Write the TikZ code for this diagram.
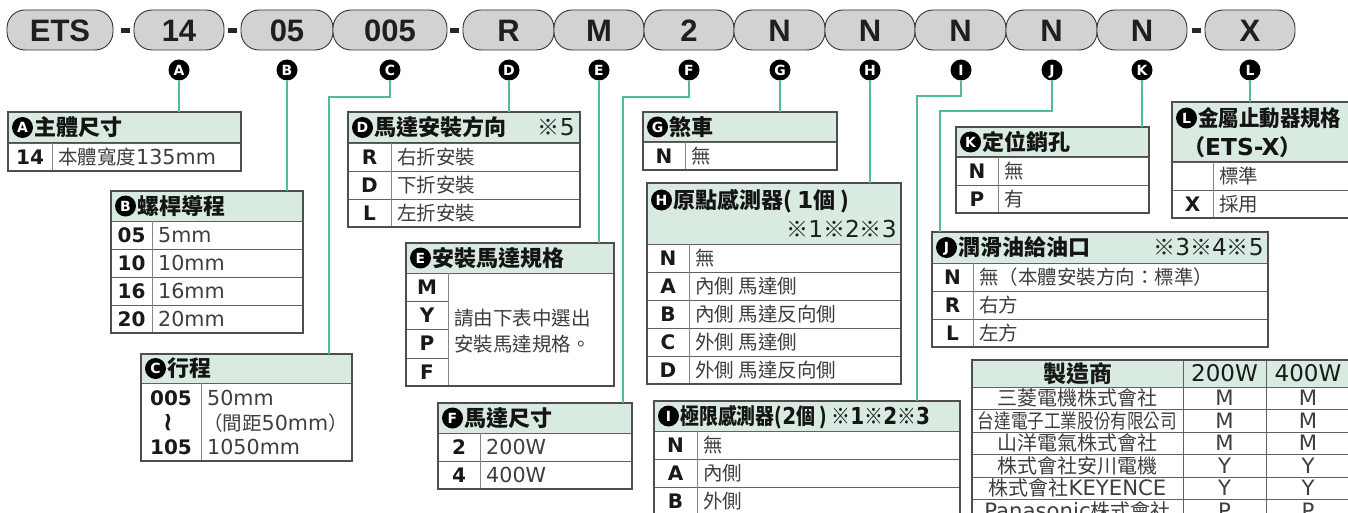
\documentclass[tikz,border=0pt]{standalone}
\usepackage{fontspec}
\usepackage{graphicx}
\setmainfont{Noto Sans CJK TC}
\newfontfamily\cjk{Noto Sans CJK TC}
\newfontfamily\dv{DejaVu Sans}
\newfontfamily\dvs[Scale=1.06]{DejaVu Sans}
\newfontfamily\lib{Liberation Sans}
\newcommand\lt[1]{{\dvs #1}}
\definecolor{teal1}{RGB}{78,189,152}
\definecolor{hdrgreen}{RGB}{217,235,224}
\definecolor{pillgray}{RGB}{209,210,212}
\definecolor{framegray}{RGB}{78,78,78}
\definecolor{txtgray}{RGB}{62,62,62}
\tikzset{
  pill/.style={draw=black!80, line width=0.9pt, fill=pillgray, rounded corners=18pt, minimum height=40pt, inner sep=0pt, font=\lib\bfseries\fontsize{31}{31}\selectfont, text=black!88, text height=22.2pt, text depth=0pt},
  dashbox/.style={fill=black!85, minimum width=9pt, minimum height=5pt, inner sep=0pt},
  lcirc/.style={circle, fill=black, text=white, minimum size=21pt, inner sep=0pt, font=\dv\bfseries\fontsize{14}{14}\selectfont, text height=10.2pt, text depth=0pt},
  hcirc/.style={circle, fill=black, text=white, minimum size=21pt, inner sep=0pt, font=\dv\bfseries\fontsize{14}{14}\selectfont, text height=10.2pt, text depth=0pt},
  hdrfill/.style={draw=framegray, line width=1pt, fill=hdrgreen, inner sep=0pt, outer sep=0pt},
  htxt/.style={anchor=west, inner sep=0pt, font=\cjk\bfseries\fontsize{22}{22}\selectfont, text=black!92, text height=16.7pt, text depth=0pt},
  htxtr/.style={anchor=east, inner sep=0pt, font=\cjk\fontsize{22}{22}\selectfont, text=black!88, text height=16.7pt, text depth=0pt},
  codetxt/.style={inner sep=0pt, font=\dv\bfseries\fontsize{20}{20}\selectfont, text=black!90, text height=14.6pt, text depth=0pt},
  desctxt/.style={anchor=west, inner sep=0pt, font=\cjk\fontsize{19.5}{19.5}\selectfont, text=txtgray, text height=14.8pt, text depth=0pt},
  rowln/.style={draw=black!62, line width=0.9pt},
  colln/.style={draw=black!48, line width=0.8pt},
  boxframe/.style={draw=framegray, line width=1.3pt},
  conn/.style={draw=teal1, line width=1.2pt},
  mtxt/.style={inner sep=0pt, font=\cjk\fontsize{20}{20}\selectfont, text=txtgray, text height=15.2pt, text depth=0pt},
  mhtxt/.style={inner sep=0pt, font=\cjk\bfseries\fontsize{23}{23}\selectfont, text=black!90, text height=17.5pt, text depth=0pt},
  mhnum/.style={inner sep=0pt, font=\dv\fontsize{23}{23}\selectfont, text=black!90, text height=16.8pt, text depth=0pt},
}
% name, x1, y1, x2, y2, ycenter, letter, text
\newcommand\thead[8]{%
  \node[hdrfill, anchor=north west, minimum width={(#4-#2)*1pt}, minimum height={(#5-#3)*1pt}] (#1) at (#2,#3) {};
  \node[hcirc] (#1c) at ({#2+14.5},{#6}) {#7};
  \node[htxt] (#1t) at ({#2+26},{#6}) {#8};
}
% name, x1, xs, x2, y1, y2, code, desc
\newcommand\trow[8]{%
  \draw[rowln] (#2,#5) rectangle (#4,#6);
  \draw[colln] (#3,#5) -- (#3,#6);
  \node[codetxt] (#1c) at ({(#2+#3)/2},{(#5+#6)/2}) {#7};
  \node[desctxt] (#1d) at ({#3+6},{(#5+#6)/2}) {#8};
}
\begin{document}
\begin{tikzpicture}[x=1pt,y=-1pt]
\useasboundingbox (0,0) rectangle (1348,513);
\clip (0,0) rectangle (1348,513);
\fill[white] (0,0) rectangle (1348,513);

% ---- code pills ----
\node[pill, minimum width=106pt] (pETS) at (60,30) {ETS};
\node[pill, minimum width=90pt] (p14) at (179,30) {14};
\node[pill, minimum width=92pt] (p05) at (287,30) {05};
\node[pill, minimum width=114pt] (p005) at (390,30) {005};
\node[pill, minimum width=91pt] (pR) at (508.5,30) {R};
\node[pill, minimum width=90pt] (pM) at (599,30) {M};
\node[pill, minimum width=90pt] (p2) at (689,30) {2};
\node[pill, minimum width=91pt] (pG) at (779.5,30) {N};
\node[pill, minimum width=90pt] (pH) at (870,30) {N};
\node[pill, minimum width=91pt] (pI) at (960.5,30) {N};
\node[pill, minimum width=91pt] (pJ) at (1051.5,30) {N};
\node[pill, minimum width=90pt] (pK) at (1142,30) {N};
\node[pill, minimum width=90pt] (pX) at (1250,30) {X};
\node[dashbox] (d1) at (125.5,30.5) {};
\node[dashbox] (d2) at (232.5,30.5) {};
\node[dashbox] (d3) at (454.5,30.5) {};
\node[dashbox] (d4) at (1196.5,30.5) {};

% ---- letter circles ----
\foreach \n/\x in {A/179,B/287,C/390,D/509,E/599,F/689,G/780,H/870,I/961,J/1052,K/1142,L/1250}
  \node[lcirc] (c\n) at (\x,70) {\n};

% ---- A ----
\thead{hA}{8}{112}{241}{143}{127.5}{A}{主體尺寸}
\trow{rA1}{8}{52}{241}{143}{171}{14}{本體寬度\lt{135mm}}
\draw[boxframe] (8,112) rectangle (241,171);

% ---- B ----
\thead{hB}{111}{191}{303}{221}{206}{B}{螺桿導程}
\trow{rB1}{111}{152}{303}{221}{249}{05}{\lt{5mm}}
\trow{rB2}{111}{152}{303}{249}{277}{10}{\lt{10mm}}
\trow{rB3}{111}{152}{303}{277}{305}{16}{\lt{16mm}}
\trow{rB4}{111}{152}{303}{305}{333}{20}{\lt{20mm}}
\draw[boxframe] (111,191) rectangle (303,333);

% ---- C ----
\thead{hC}{141}{354}{352}{383}{368.5}{C}{行程}
\draw[rowln] (141,383) rectangle (352,461);
\draw[colln] (201,383) -- (201,461);
\node[codetxt] (rC1c) at (171,398) {005};
\node[inner sep=0pt, font=\dv\bfseries\fontsize{26}{26}\selectfont, text=black!90] (rC2c) at (171,423) {\rotatebox{90}{\textasciitilde}};
\node[codetxt] (rC3c) at (171,447) {105};
\node[desctxt] (rC1d) at (207,398) {\lt{50mm}};
\node[desctxt] (rC2d) at (203,423) {（間距\lt{50mm}）};
\node[desctxt] (rC3d) at (207,447) {\lt{1050mm}};
\draw[boxframe] (141,354) rectangle (352,461);

% ---- D ----
\thead{hD}{348}{112}{580}{143}{127.5}{D}{馬達安裝方向}
\node[htxtr] (hDr) at (575,127.5) {※\lt{5}};
\trow{rD1}{348}{391}{580}{143}{171}{R}{右折安裝}
\trow{rD2}{348}{391}{580}{171}{199}{D}{下折安裝}
\trow{rD3}{348}{391}{580}{199}{227}{L}{左折安裝}
\draw[boxframe] (348,112) rectangle (580,227);

% ---- E ----
\thead{hE}{406}{243}{614}{273}{258}{E}{安裝馬達規格}
\draw[rowln] (406,273) rectangle (614,386);
\draw[colln] (448,273) -- (448,386);
\draw[rowln] (406,301) -- (448,301);
\draw[rowln] (406,329) -- (448,329);
\draw[rowln] (406,358) -- (448,358);
\node[codetxt] (rE1c) at (427,287) {M};
\node[codetxt] (rE2c) at (427,315) {Y};
\node[codetxt] (rE3c) at (427,343.5) {P};
\node[codetxt] (rE4c) at (427,372) {F};
\node[desctxt] (rEd1) at (454,318) {請由下表中選出};
\node[desctxt] (rEd2) at (454,344) {安裝馬達規格。};
\draw[boxframe] (406,243) rectangle (614,386);

% ---- F ----
\thead{hF}{438}{403}{632}{433}{418}{F}{馬達尺寸}
\trow{rF1}{438}{480}{632}{433}{461}{2}{\lt{200W}}
\trow{rF2}{438}{480}{632}{461}{489}{4}{\lt{400W}}
\draw[boxframe] (438,403) rectangle (632,489);

% ---- G ----
\thead{hG}{643}{112}{837}{142}{127}{G}{煞車}
\trow{rG1}{643}{685}{837}{142}{170}{N}{無}
\draw[boxframe] (643,112) rectangle (837,170);

% ---- H ----
\thead{hH}{647}{183}{901}{244}{200}{H}{原點感測器( \lt{1}個 )}
\node[htxtr] (hHr) at (897,229) {※\lt{1}※\lt{2}※\lt{3}};
\trow{rH1}{647}{689}{901}{244}{272}{N}{無}
\trow{rH2}{647}{689}{901}{272}{300}{A}{內側 馬達側}
\trow{rH3}{647}{689}{901}{300}{328}{B}{內側 馬達反向側}
\trow{rH4}{647}{689}{901}{328}{356}{C}{外側 馬達側}
\trow{rH5}{647}{689}{901}{356}{384}{D}{外側 馬達反向側}
\draw[boxframe] (647,183) rectangle (901,384);

% ---- I ----
\thead{hI}{654}{401}{960}{431}{416}{I}{\scalebox{0.86}[1]{極限感測器(\lt{2}個 ) ※\lt{1}※\lt{2}※\lt{3}}}
\trow{rI1}{654}{697}{960}{431}{459}{N}{無}
\trow{rI2}{654}{697}{960}{459}{487}{A}{內側}
\trow{rI3}{654}{697}{960}{487}{515}{B}{外側}
\draw[boxframe] (654,401) rectangle (960,515);

% ---- J ----
\thead{hJ}{932}{232}{1268}{263}{247.5}{J}{潤滑油給油口}
\node[htxtr] (hJr) at (1264,247.5) {※\lt{3}※\lt{4}※\lt{5}};
\trow{rJ1}{932}{973}{1268}{263}{291}{N}{無（本體安裝方向：標準）}
\trow{rJ2}{932}{973}{1268}{291}{319}{R}{右方}
\trow{rJ3}{932}{973}{1268}{319}{347}{L}{左方}
\draw[boxframe] (932,232) rectangle (1268,347);

% ---- K ----
\thead{hK}{956}{127}{1149}{157}{142}{K}{定位銷孔}
\trow{rK1}{956}{998}{1149}{157}{185}{N}{無}
\trow{rK2}{956}{998}{1149}{185}{213}{P}{有}
\draw[boxframe] (956,127) rectangle (1149,213);

% ---- L ----
\thead{hL}{1172}{102}{1362}{162}{118}{L}{\scalebox{0.93}[1]{金屬止動器規格}}
\node[htxt] (hL2) at (1183,147) {（\lt{ETS-X}）};
\trow{rL1}{1172}{1213}{1362}{162}{190}{}{標準}
\trow{rL2}{1172}{1213}{1362}{190}{218}{X}{採用}
\draw[boxframe] (1172,102) rectangle (1362,218);

% ---- manufacturer table ----
\node[hdrfill, anchor=north west, minimum width=390pt, minimum height=27pt] (mH) at (972,360) {};
\foreach \yy in {409.5,432,454.5,477,499.5}
  \draw[rowln] (972,\yy) -- (1362,\yy);
\draw[rowln] (972,387) -- (1362,387);
\draw[rowln] (1183,360) -- (1183,522);
\draw[rowln] (1266,360) -- (1266,522);
\node[mhtxt] (mH1) at (1077.5,373.5) {製造商};
\node[mhnum] (mH2) at (1224.5,373.5) {200W};
\node[mhnum] (mH3) at (1308,373.5) {400W};
\node[mtxt] (m1n) at (1077.5,398.2) {三菱電機株式會社};
\node[mtxt] (m2n) at (1077.5,420.7) {\scalebox{0.83}[1]{台達電子工業股份有限公司}};
\node[mtxt] (m3n) at (1077.5,443.2) {山洋電氣株式會社};
\node[mtxt] (m4n) at (1077.5,465.7) {株式會社安川電機};
\node[mtxt] (m5n) at (1077.5,488.2) {株式會社\lt{KEYENCE}};
\node[mtxt] (m6n) at (1077.5,510.7) {\lt{Panasonic}株式會社};
\foreach \r/\yy/\v in {1/398.2/M,2/420.7/M,3/443.2/M,4/465.7/Y,5/488.2/Y,6/510.7/P}{
  \node[mtxt] (m\r a) at (1224.5,\yy) {\lt{\v}};
  \node[mtxt] (m\r b) at (1308,\yy) {\lt{\v}};
}
\draw[boxframe] (972,360) rectangle (1362,522);

% ---- connectors ----
\draw[conn] (cA) -- (cA |- hA.north);
\draw[conn] (cB) -- (cB |- hB.north);
\coordinate (kC) at (329,97);
\draw[conn] (cC) |- (kC) -- (kC |- hC.north);
\draw[conn] (cD) -- (cD |- hD.north);
\draw[conn] (cE) -- (cE |- hE.north);
\coordinate (kF) at (623,97);
\draw[conn] (cF) |- (kF) -- (kF |- hF.north);
\draw[conn] (cG) -- (cG |- hG.north);
\draw[conn] (cH) -- (cH |- hH.north);
\coordinate (kI) at (917,96);
\draw[conn] (cI) |- (kI) -- (kI |- hI.north);
\coordinate (kJ) at (940,111);
\draw[conn] (cJ) |- (kJ) -- (kJ |- hJ.north);
\draw[conn] (cK) -- (cK |- hK.north);
\draw[conn] (cL) -- (cL |- hL.north);
\end{tikzpicture}
\end{document}
